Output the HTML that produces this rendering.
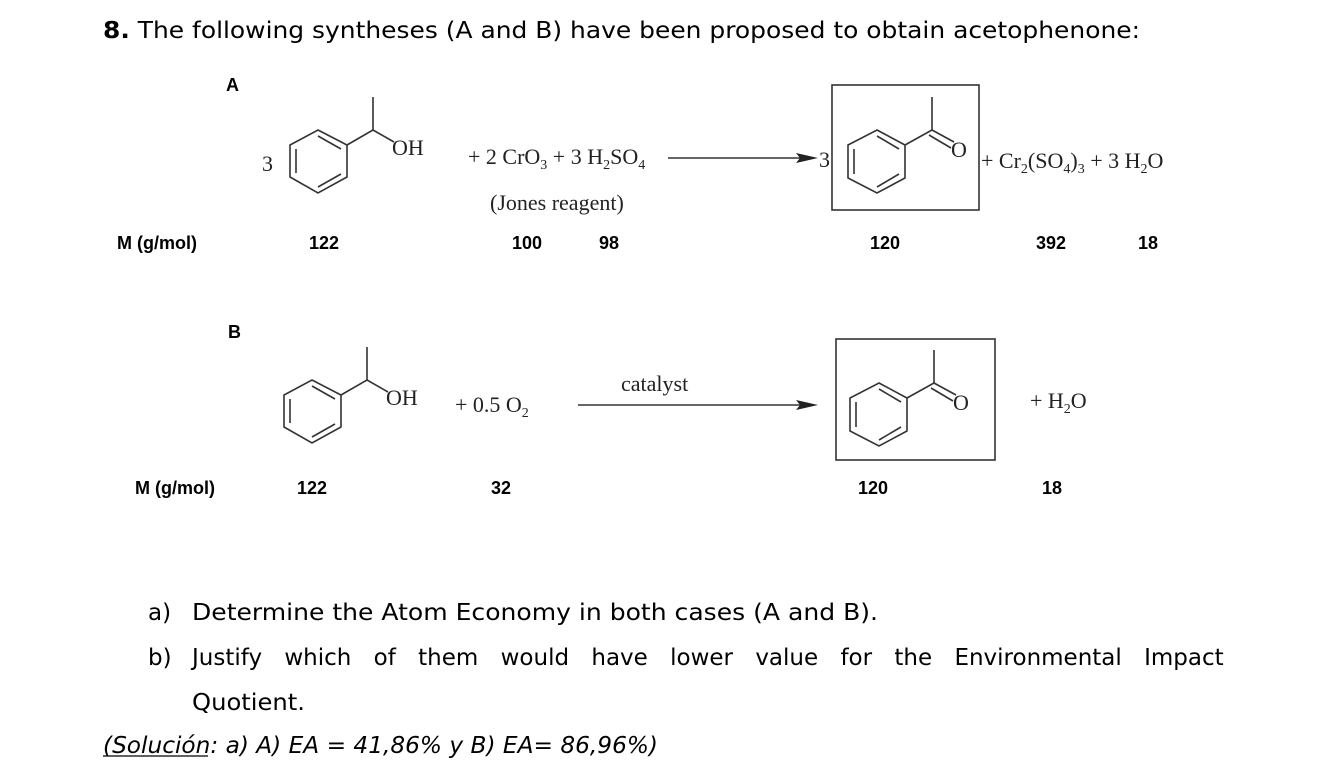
<!DOCTYPE html>
<html><head><meta charset="utf-8"><style>
html,body{margin:0;padding:0;background:#fff;}
svg{display:block}
.v{font-family:"DejaVu Sans","Liberation Sans",sans-serif;font-size:23px;fill:#000}
.m{font-family:"Liberation Sans",sans-serif;font-weight:bold;font-size:18px;fill:#000}
.t{font-family:"Liberation Serif",serif;font-size:22px;fill:#222}
.s{font-size:14px}
</style></head><body>
<svg width="1339" height="769" viewBox="0 0 1339 769" xmlns="http://www.w3.org/2000/svg">
<defs>
<g id="alc" fill="none" stroke="#333" stroke-width="1.6">
<polygon points="318,130 347,145 347,177 318,193 290,177 290,145"/>
<line x1="296" y1="149" x2="296" y2="173"/>
<line x1="318" y1="136" x2="341" y2="149"/>
<line x1="318" y1="187" x2="341" y2="174"/>
<polyline points="347,145 373,130 373,97"/>
<line x1="373" y1="130" x2="394" y2="142"/>
</g>
<g id="ket" fill="none" stroke="#333" stroke-width="1.6">
<polygon points="877,130 905,145 905,178 877,193 848,178 848,145"/>
<line x1="854" y1="149" x2="854" y2="174"/>
<line x1="877" y1="136" x2="899" y2="149"/>
<line x1="877" y1="187" x2="899" y2="174"/>
<polyline points="905,145 932,130 932,97"/>
<line x1="932" y1="130" x2="954" y2="142"/>
<line x1="929" y1="135" x2="951" y2="148"/>
</g>
</defs>
<text class="v" x="103" y="38" textLength="1037" lengthAdjust="spacingAndGlyphs"><tspan font-weight="bold">8.</tspan> The following syntheses (A and B) have been proposed to obtain acetophenone:</text>

<text class="m" x="226" y="91" font-size="16">A</text>
<use href="#alc"/>
<text class="t" x="262" y="171" font-size="18">3</text>
<text class="t" x="392" y="155">OH</text>
<text class="t" x="468" y="164">+ 2 CrO<tspan class="s" dy="5">3</tspan><tspan dy="-5"> + 3 H</tspan><tspan class="s" dy="5">2</tspan><tspan dy="-5">SO</tspan><tspan class="s" dy="5">4</tspan></text>
<text class="t" x="490" y="210" font-size="20">(Jones reagent)</text>
<line x1="668" y1="158" x2="800" y2="158" stroke="#333" stroke-width="1.6"/>
<polygon points="818,158 796,153 800,158 796,163" fill="#222"/>
<text class="t" x="819" y="167" font-size="18">3</text>
<rect x="832" y="85" width="147" height="125" fill="none" stroke="#333" stroke-width="1.6"/>
<use href="#ket"/>
<text class="t" x="951" y="157">O</text>
<text class="t" x="981" y="168">+ Cr<tspan class="s" dy="5">2</tspan><tspan dy="-5">(SO</tspan><tspan class="s" dy="5">4</tspan><tspan dy="-5">)</tspan><tspan class="s" dy="5">3</tspan><tspan dy="-5"> + 3 H</tspan><tspan class="s" dy="5">2</tspan><tspan dy="-5">O</tspan></text>

<text class="m" x="117" y="249">M (g/mol)</text>
<text class="m" x="309" y="249" font-size="17">122</text>
<text class="m" x="512" y="249" font-size="17">100</text>
<text class="m" x="599" y="249" font-size="17">98</text>
<text class="m" x="870" y="249" font-size="17">120</text>
<text class="m" x="1036" y="249" font-size="17">392</text>
<text class="m" x="1138" y="249" font-size="17">18</text>

<text class="m" x="228" y="338" font-size="16">B</text>
<use href="#alc" transform="translate(-6,250)"/>
<text class="t" x="386" y="405">OH</text>
<text class="t" x="455" y="412">+ 0.5 O<tspan class="s" dy="5">2</tspan></text>
<text class="t" x="621" y="391" font-size="20">catalyst</text>
<line x1="578" y1="405" x2="800" y2="405" stroke="#333" stroke-width="1.6"/>
<polygon points="818,405 796,400 800,405 796,410" fill="#222"/>
<rect x="836" y="339" width="159" height="121" fill="none" stroke="#333" stroke-width="1.6"/>
<use href="#ket" transform="translate(2,253)"/>
<text class="t" x="953" y="410">O</text>
<text class="t" x="1030" y="408">+ H<tspan class="s" dy="5">2</tspan><tspan dy="-5">O</tspan></text>

<text class="m" x="135" y="494">M (g/mol)</text>
<text class="m" x="297" y="494" font-size="17">122</text>
<text class="m" x="491" y="494" font-size="17">32</text>
<text class="m" x="858" y="494" font-size="17">120</text>
<text class="m" x="1042" y="494" font-size="17">18</text>

<text class="v" x="148" y="620">a)</text>
<text class="v" x="192" y="620" textLength="686" lengthAdjust="spacingAndGlyphs">Determine the Atom Economy in both cases (A and B).</text>
<text class="v" x="148" y="665">b)</text>
<text class="v" x="192" y="665" word-spacing="15">Justify which of them would have lower value for the Environmental Impact</text>
<text class="v" x="192" y="710" textLength="113" lengthAdjust="spacingAndGlyphs">Quotient.</text>
<text class="v" x="103" y="753" font-style="italic" textLength="555" lengthAdjust="spacingAndGlyphs">(Solución: a) A) EA = 41,86% y B) EA= 86,96%)</text>
<line x1="103" y1="756" x2="208" y2="756" stroke="#000" stroke-width="1.3"/>
</svg>
</body></html>
